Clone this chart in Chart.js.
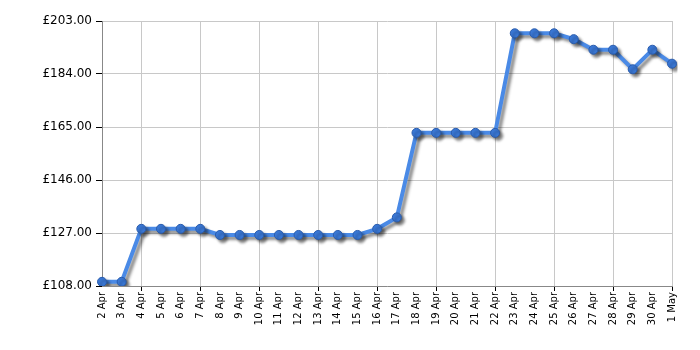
<!DOCTYPE html>
<html>
<head>
<meta charset="utf-8">
<script src="https://cdn.jsdelivr.net/npm/chart.js@4"></script>
<style>
  body { margin: 0; background: #fff; }
  #wrap { width: 700px; height: 350px; }
</style>
</head>
<body>
<div id="wrap"><canvas id="grafico" width="700" height="350"></canvas></div>
<script>
// dados do grafico
const dias = ['2 Apr', '3 Apr', '4 Apr', '5 Apr', '6 Apr', '7 Apr', '8 Apr', '9 Apr', '10 Apr', '11 Apr',
    '12 Apr', '13 Apr', '14 Apr', '15 Apr', '16 Apr', '17 Apr', '18 Apr', '19 Apr', '20 Apr', '21 Apr',
    '22 Apr', '23 Apr', '24 Apr', '25 Apr', '26 Apr', '27 Apr', '28 Apr', '29 Apr', '30 Apr', '1 May'];
const precos = [109.5, 109.5, 128.5, 128.5, 128.5, 128.5, 126.3, 126.3, 126.3, 126.3,
    126.3, 126.3, 126.3, 126.3, 128.5, 132.6, 162.9, 162.9, 162.9, 162.9,
    162.9, 198.6, 198.6, 198.6, 196.5, 192.7, 192.7, 185.7, 192.7, 187.7];
const eixoMin = 108;
const eixoMax = 203;
const passo = 19;

// sombra da linha
const sombra = {
    id: 'sombra',
    beforeDatasetsDraw(chart) {
        const ctx = chart.ctx;
        ctx.save();
        ctx.shadowColor = 'rgba(0, 0, 0, 0.45)';
        ctx.shadowOffsetX = 3;
        ctx.shadowOffsetY = 3;
        ctx.shadowBlur = 3;
    },
    afterDatasetsDraw(chart) {
        chart.ctx.restore();
    }
};

const fonte = 'DejaVu Sans';

new Chart(document.getElementById('grafico'), {
    type: 'line',
    data: {
        labels: dias,
        datasets: [{
            data: precos,
            borderColor: '#4a8ae6',
            borderWidth: 4,
            pointRadius: 4.5,
            pointBackgroundColor: '#3a78d6',
            pointBorderColor: '#2a5cac',
            pointBorderWidth: 1,
            tension: 0,
            fill: false
        }]
    },
    options: {
        responsive: false,
        animation: false,
        layout: { padding: { top: 21, right: 28, left: 0, bottom: 0 } },
        plugins: {
            legend: { display: false },
            tooltip: { enabled: false }
        },
        scales: {
            x: {
                offset: false,
                afterFit: (scale) => { scale.height = 64; },
                border: { color: '#888', width: 1 },
                grid: {
                    color: (c) => (c.index % 3 === 2 ? '#c8c8c8' : 'rgba(0,0,0,0)'),
                    tickColor: (c) => (c.index % 3 === 2 ? '#000' : 'rgba(0,0,0,0)'),
                    tickLength: 5
                },
                ticks: {
                    autoSkip: false,
                    minRotation: 90,
                    maxRotation: 90,
                    padding: 1,
                    color: '#000',
                    font: { family: fonte, size: 10 }
                }
            },
            y: {
                min: eixoMin,
                max: eixoMax,
                afterFit: (scale) => { scale.width = 102; },
                border: { color: '#888', width: 1 },
                grid: {
                    color: '#c8c8c8',
                    tickColor: '#000',
                    tickLength: 6
                },
                ticks: {
                    stepSize: passo,
                    padding: 4,
                    color: '#000',
                    font: { family: fonte, size: 12 },
                    callback: (v) => '£' + Number(v).toFixed(2)
                }
            }
        }
    },
    plugins: [sombra]
});
</script>
</body>
</html>
